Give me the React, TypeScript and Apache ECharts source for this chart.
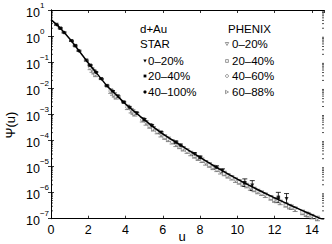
import React, { useEffect, useRef } from "react";
import * as echarts from "echarts";

// Fitted scaling curve Psi(u)
const curveU = [0, 0.5, 1, 1.5, 2, 2.5, 3, 3.5, 4, 5, 6, 7, 8, 9, 10, 11, 12, 13, 14, 14.65];
const curvePsi = [4.27, 2.0, 0.79, 0.275, 0.093, 0.034, 0.0126, 5.6e-3, 2.5e-3, 6.3e-4, 1.78e-4, 6.3e-5, 2.24e-5, 8.3e-6, 3.3e-6, 1.41e-6, 6.3e-7, 2.95e-7, 1.41e-7, 8.9e-8];

// STAR d+Au
const star1U = [0.3, 1.1, 1.9, 2.7, 3.6, 4.6, 5.9, 7.7, 9.2, 10.8, 12.64];
const star1Psi = [2.7, 0.65, 0.115, 0.0226, 4.8e-3, 1.1e-3, 2.0e-4, 3.0e-5, 6.9e-6, 1.86e-6, 5.75e-7];
const star1Err = [0.05, 0.05, 0.05, 0.05, 0.06, 0.08, 0.1, 0.12, 0.18, 0.55, 0.6];
const star2U = [0.5, 1.3, 2.1, 3.0, 3.9, 5.0, 6.7, 8.0, 10.4, 12.2];
const star2Psi = [2.0, 0.43, 0.076, 0.0126, 2.95e-3, 6.3e-4, 8.6e-5, 2.24e-5, 2.4e-6, 6.6e-7];
const star2Err = [0.05, 0.05, 0.05, 0.05, 0.06, 0.08, 0.1, 0.12, 0.4, 0.55];
const star3U = [0.7, 1.5, 2.4, 3.3, 4.2, 5.4, 6.95, 8.88];
const star3Psi = [1.38, 0.275, 0.042, 7.8e-3, 1.9e-3, 3.8e-4, 6.6e-5, 9.3e-6];
const star3Err = [0.05, 0.05, 0.05, 0.05, 0.06, 0.08, 0.1, 0.15];

// PHENIX d+Au
const phx1U = [2.2, 3.3, 4.3, 5.1, 5.9, 6.7, 7.5, 8.3, 9.1, 9.9, 10.7, 11.5, 12.3, 13.1, 14.0];
const phx1Psi = [0.05, 6.6e-3, 1.38e-3, 4.7e-4, 1.66e-4, 7.1e-5, 3.16e-5, 1.38e-5, 6.3e-6, 3.0e-6, 1.51e-6, 7.9e-7, 4.2e-7, 2.3e-7, 1.2e-7];
const phx2U = [2.3, 3.4, 4.4, 5.3, 6.1, 6.9, 7.7, 8.5, 9.3, 10.1, 10.9, 11.8, 12.6, 13.5];
const phx2Psi = [0.043, 5.6e-3, 1.23e-3, 3.6e-4, 1.35e-4, 5.9e-5, 2.57e-5, 1.15e-5, 5.4e-6, 2.57e-6, 1.32e-6, 6.3e-7, 3.4e-7, 1.74e-7];
const phx3U = [2.1, 3.2, 4.1, 4.9, 5.7, 6.5, 7.3, 8.1, 8.9, 9.7, 10.5, 11.3, 12.1, 12.9, 13.8];
const phx3Psi = [0.063, 7.8e-3, 1.86e-3, 6.2e-4, 2.19e-4, 8.9e-5, 3.9e-5, 1.74e-5, 7.8e-6, 3.7e-6, 1.86e-6, 9.5e-7, 5.0e-7, 2.75e-7, 1.41e-7];
const phx4U = [2.4, 3.5, 4.5, 5.5, 6.3, 7.1, 7.9, 8.7, 9.5, 10.3, 11.1, 12.0, 12.8, 13.7, 14.3];
const phx4Psi = [0.034, 4.7e-3, 1.05e-3, 2.8e-4, 1.1e-4, 4.8e-5, 2.09e-5, 9.3e-6, 4.4e-6, 2.14e-6, 1.1e-6, 5.2e-7, 2.9e-7, 1.48e-7, 1.02e-7];
const phxRelErr = 0.22;

const xTicks = [0, 2, 4, 6, 8, 10, 12, 14];
const decades = [-7, -6, -5, -4, -3, -2, -1, 0, 1];

const X_MAX = 14.65;
const FONT = "Liberation Sans, Arial, sans-serif";
const GRAY = "#6e6e6e";

function pts(us: number[], vs: number[]) {
  return us.map((u, i) => [u, vs[i]]);
}

function errData(us: number[], vs: number[], errs: number[] | number) {
  return us.map((u, i) => {
    const e = Array.isArray(errs) ? errs[i] : errs;
    return [u, vs[i] / (1 + e), vs[i] * (1 + e)];
  });
}

function errSeries(data: number[][], color: string, cap: number) {
  return {
    type: "custom",
    silent: true,
    xAxisIndex: 0,
    yAxisIndex: 0,
    data,
    encode: { x: 0, y: [1, 2] },
    z: 2,
    renderItem: (params: any, api: any) => {
      const x = api.value(0);
      const lo = api.coord([x, api.value(1)]);
      const hi = api.coord([x, api.value(2)]);
      const st = { stroke: color, lineWidth: 0.8 };
      return {
        type: "group",
        children: [
          { type: "line", shape: { x1: lo[0], y1: lo[1], x2: hi[0], y2: hi[1] }, style: st },
          { type: "line", shape: { x1: lo[0] - cap, y1: lo[1], x2: lo[0] + cap, y2: lo[1] }, style: st },
          { type: "line", shape: { x1: hi[0] - cap, y1: hi[1], x2: hi[0] + cap, y2: hi[1] }, style: st },
        ],
      };
    },
  };
}

function scatter(data: number[][], symbol: string, rotate: number, filled: boolean, size: number) {
  return {
    type: "scatter",
    xAxisIndex: 0,
    yAxisIndex: 0,
    data,
    symbol,
    symbolRotate: rotate,
    symbolSize: size,
    z: 3,
    itemStyle: filled
      ? { color: "#000" }
      : { color: "#fff", borderColor: GRAY, borderWidth: 0.8 },
  };
}

export default function App() {
  const ref = useRef<HTMLDivElement>(null);
  useEffect(() => {
    if (!ref.current) return;
    const chart = echarts.init(ref.current, undefined, { renderer: "svg" });

    const minorVals: number[][] = [];
    decades.slice(0, -1).forEach((d) => {
      for (let k = 2; k <= 9; k++) minorVals.push([0, k * Math.pow(10, d)]);
    });

    const yFmt = (v: number) => {
      const e = Math.round(Math.log10(v));
      return `{b|10}{e|${e < 0 ? "\u2212" + -e : e}}`;
    };

    const axisCommon = {
      axisLine: { show: true, lineStyle: { color: "#000", width: 1 } },
      axisTick: { show: true, inside: true, length: 3, lineStyle: { color: "#000", width: 0.8 } },
      splitLine: { show: false },
    };

    const option: any = {
      animation: false,
      grid: { left: 51, right: 8, top: 10, bottom: 25.3, containLabel: false },
      xAxis: [
        {
          type: "value",
          min: 0,
          max: X_MAX,
          interval: 2,
          position: "bottom",
          ...axisCommon,
          axisLabel: {
            show: true,
            color: "#000",
            fontFamily: FONT,
            fontSize: 12.5,
            margin: 5,
            showMaxLabel: false,
            formatter: (v: number) => (xTicks.includes(v) ? String(v) : ""),
          },
        },
        {
          type: "value",
          min: 0,
          max: X_MAX,
          interval: 2,
          position: "top",
          ...axisCommon,
          axisLabel: { show: false },
        },
      ],
      yAxis: [
        {
          type: "log",
          logBase: 10,
          min: 1e-7,
          max: 10,
          interval: 1,
          position: "left",
          ...axisCommon,
          axisLabel: {
            show: true,
            align: "left",
            margin: 25,
            color: "#000",
            fontFamily: FONT,
            formatter: yFmt,
            rich: {
              b: { fontSize: 12.5, lineHeight: 18, fontFamily: FONT, color: "#000", verticalAlign: "bottom" },
              e: { fontSize: 8, fontFamily: FONT, color: "#000", verticalAlign: "top" },
            },
          },
        },
        {
          type: "log",
          logBase: 10,
          min: 1e-7,
          max: 10,
          interval: 1,
          position: "right",
          ...axisCommon,
          axisLabel: { show: false },
        },
      ],
      graphic: [
        { type: "text", x: 10, y: 125, rotation: Math.PI / 2, style: { text: "\u03A8(u)", fontSize: 13, fontFamily: FONT, fill: "#000", align: "center", verticalAlign: "middle" } },
        { type: "text", x: 182, y: 236, style: { text: "u", fontSize: 13, fontFamily: FONT, fill: "#000", align: "center", verticalAlign: "middle" } },
        { type: "text", x: 140, y: 29, style: { text: "d+Au", fontSize: 11.5, fontFamily: FONT, fill: "#000", verticalAlign: "middle" } },
        { type: "text", x: 140, y: 44, style: { text: "STAR", fontSize: 11.5, fontFamily: FONT, fill: "#000", verticalAlign: "middle" } },
        { type: "text", x: 148, y: 61, style: { text: "0\u201320%", fontSize: 11.5, fontFamily: FONT, fill: "#000", verticalAlign: "middle" } },
        { type: "text", x: 148, y: 76, style: { text: "20\u201340%", fontSize: 11.5, fontFamily: FONT, fill: "#000", verticalAlign: "middle" } },
        { type: "text", x: 148, y: 92, style: { text: "40\u2013100%", fontSize: 11.5, fontFamily: FONT, fill: "#000", verticalAlign: "middle" } },
        { type: "polygon", shape: { points: [[143.3, 59.5], [146.7, 59.5], [145, 62.5]] }, style: { fill: "#000" } },
        { type: "rect", shape: { x: 143.6, y: 74.6, width: 2.8, height: 2.8 }, style: { fill: "#000" } },
        { type: "circle", shape: { cx: 145, cy: 92, r: 1.6 }, style: { fill: "#000" } },
        { type: "text", x: 228, y: 29, style: { text: "PHENIX", fontSize: 11.5, fontFamily: FONT, fill: "#000", verticalAlign: "middle" } },
        { type: "text", x: 232, y: 44, style: { text: "0\u201320%", fontSize: 11.5, fontFamily: FONT, fill: "#000", verticalAlign: "middle" } },
        { type: "text", x: 232, y: 61, style: { text: "20\u201340%", fontSize: 11.5, fontFamily: FONT, fill: "#000", verticalAlign: "middle" } },
        { type: "text", x: 232, y: 76, style: { text: "40\u201360%", fontSize: 11.5, fontFamily: FONT, fill: "#000", verticalAlign: "middle" } },
        { type: "text", x: 232, y: 92, style: { text: "60\u201388%", fontSize: 11.5, fontFamily: FONT, fill: "#000", verticalAlign: "middle" } },
        { type: "polygon", shape: { points: [[225.3, 42.5], [228.7, 42.5], [227, 45.5]] }, style: { fill: "#fff", stroke: GRAY, lineWidth: 0.7 } },
        { type: "rect", shape: { x: 225.6, y: 59.6, width: 2.8, height: 2.8 }, style: { fill: "#fff", stroke: GRAY, lineWidth: 0.7 } },
        { type: "circle", shape: { cx: 227, cy: 76, r: 1.5 }, style: { fill: "#fff", stroke: GRAY, lineWidth: 0.7 } },
        { type: "polygon", shape: { points: [[225.5, 90.3], [225.5, 93.7], [228.5, 92]] }, style: { fill: "#fff", stroke: GRAY, lineWidth: 0.7 } },
      ],
      series: [
        {
          type: "custom",
          silent: true,
          xAxisIndex: 0,
          yAxisIndex: 0,
          data: minorVals,
          encode: { x: 0, y: 1 },
          z: 5,
          renderItem: (params: any, api: any) => {
            const l = api.coord([0, api.value(1)]);
            const r = api.coord([X_MAX, api.value(1)]);
            const st = { stroke: "#000", lineWidth: 0.7 };
            return {
              type: "group",
              children: [
                { type: "line", shape: { x1: l[0], y1: l[1], x2: l[0] + 2, y2: l[1] }, style: st },
                { type: "line", shape: { x1: r[0] - 2, y1: r[1], x2: r[0], y2: r[1] }, style: st },
              ],
            };
          },
        },
        errSeries(errData(phx1U, phx1Psi, phxRelErr), GRAY, 2.5),
        errSeries(errData(phx2U, phx2Psi, phxRelErr), GRAY, 2.5),
        errSeries(errData(phx3U, phx3Psi, phxRelErr), GRAY, 2.5),
        errSeries(errData(phx4U, phx4Psi, phxRelErr), GRAY, 2.5),
        scatter(pts(phx1U, phx1Psi), "triangle", 180, false, 4),
        scatter(pts(phx2U, phx2Psi), "rect", 0, false, 3.5),
        scatter(pts(phx3U, phx3Psi), "circle", 0, false, 3.5),
        scatter(pts(phx4U, phx4Psi), "triangle", -90, false, 4),
        errSeries(errData(star1U, star1Psi, star1Err), "#000", 2.5),
        errSeries(errData(star2U, star2Psi, star2Err), "#000", 2.5),
        errSeries(errData(star3U, star3Psi, star3Err), "#000", 2.5),
        scatter(pts(star1U, star1Psi), "triangle", 180, true, 4),
        scatter(pts(star2U, star2Psi), "rect", 0, true, 3.5),
        scatter(pts(star3U, star3Psi), "circle", 0, true, 3.5),
        {
          type: "line",
          xAxisIndex: 0,
          yAxisIndex: 0,
          data: pts(curveU, curvePsi),
          smooth: 0.3,
          showSymbol: false,
          symbol: "none",
          clip: true,
          z: 4,
          lineStyle: { color: "#000", width: 1.5 },
        },
      ],
    };
    chart.setOption(option);
    return () => chart.dispose();
  }, []);
  return (
    <div
      ref={ref}
      style={{ position: "fixed", left: 0, top: 0, width: 332, height: 244, background: "#fff" }}
    />
  );
}
